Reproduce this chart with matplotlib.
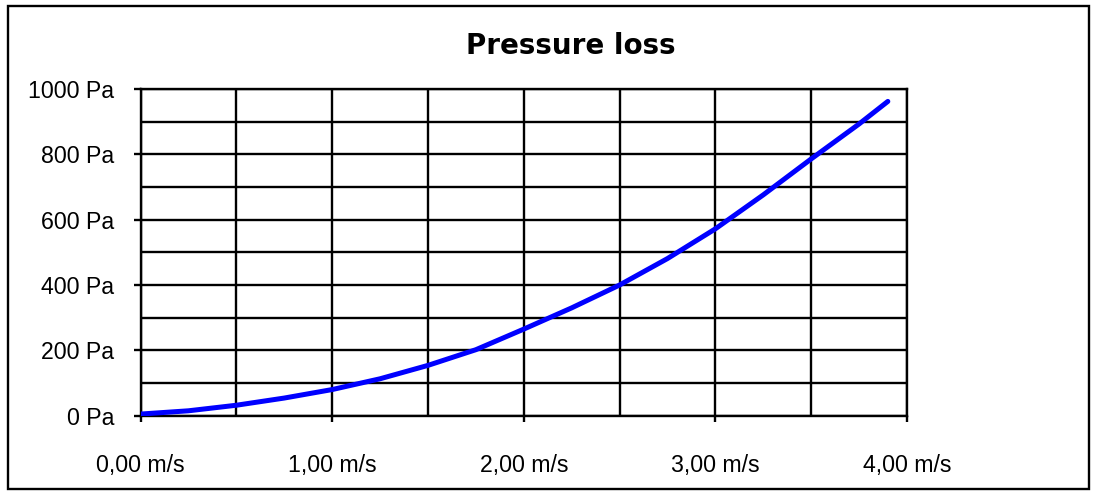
import matplotlib
matplotlib.use('Agg')
import matplotlib.pyplot as plt
from matplotlib.patches import Rectangle

# velocity (m/s) and pressure loss (Pa)
velocity = [0.0, 0.25, 0.5, 0.75, 1.0, 1.25, 1.5, 1.75, 2.0, 2.25, 2.5,
            2.75, 3.0, 3.25, 3.5, 3.75, 3.9]
pressure = [5, 15, 32, 54, 80, 113, 154, 202, 265, 330, 400,
            481, 572, 676, 786, 893, 962]

x_ticks = [0, 1, 2, 3, 4]
x_labels = ['0,00 m/s', '1,00 m/s', '2,00 m/s', '3,00 m/s', '4,00 m/s']
y_ticks = [0, 200, 400, 600, 800, 1000]
y_labels = ['0 Pa', '200 Pa', '400 Pa', '600 Pa', '800 Pa', '1000 Pa']

plt.rcParams['font.family'] = ['Liberation Sans', 'DejaVu Sans']

W, H = 1098, 495
fig = plt.figure(figsize=(W / 100, H / 100), dpi=100)
ax = fig.add_axes([140.5 / W, 1 - 415.7 / H, (907 - 140.5) / W, (415.7 - 89) / H])

ax.plot(velocity, pressure, color='#0000ff', lw=3.6, solid_capstyle='round', zorder=3)

ax.set_xlim(0, 4)
ax.set_ylim(0, 1000)

ax.set_xticks(x_ticks)
ax.set_xticklabels(x_labels)
ax.set_yticks(y_ticks)
ax.set_yticklabels(y_labels)
ax.set_xticks([i * 0.5 for i in range(9)], minor=True)
ax.set_yticks([i * 100 for i in range(11)], minor=True)

ax.grid(True, which='both', color='black', lw=1.7)
ax.tick_params(axis='x', which='major', direction='out', length=4.5, width=1.7,
               pad=23, labelsize=16.7)
ax.tick_params(axis='y', which='major', direction='out', length=5, width=1.7,
               pad=14, labelsize=16.7)
ax.tick_params(which='minor', length=0)
for s in ax.spines.values():
    s.set_linewidth(1.7)
    s.set_color('black')

fig.text(571 / W, 1 - 46 / H, 'Pressure loss', ha='center', va='center',
         fontsize=20, fontweight='bold', family='DejaVu Sans')

# outer chart border
fig.patches.append(Rectangle((8 / W, 1 - 489 / H), (1089 - 8) / W, (489 - 6) / H,
                             transform=fig.transFigure, fill=False,
                             edgecolor='black', lw=1.7))

fig.savefig('out.png', dpi=100)
